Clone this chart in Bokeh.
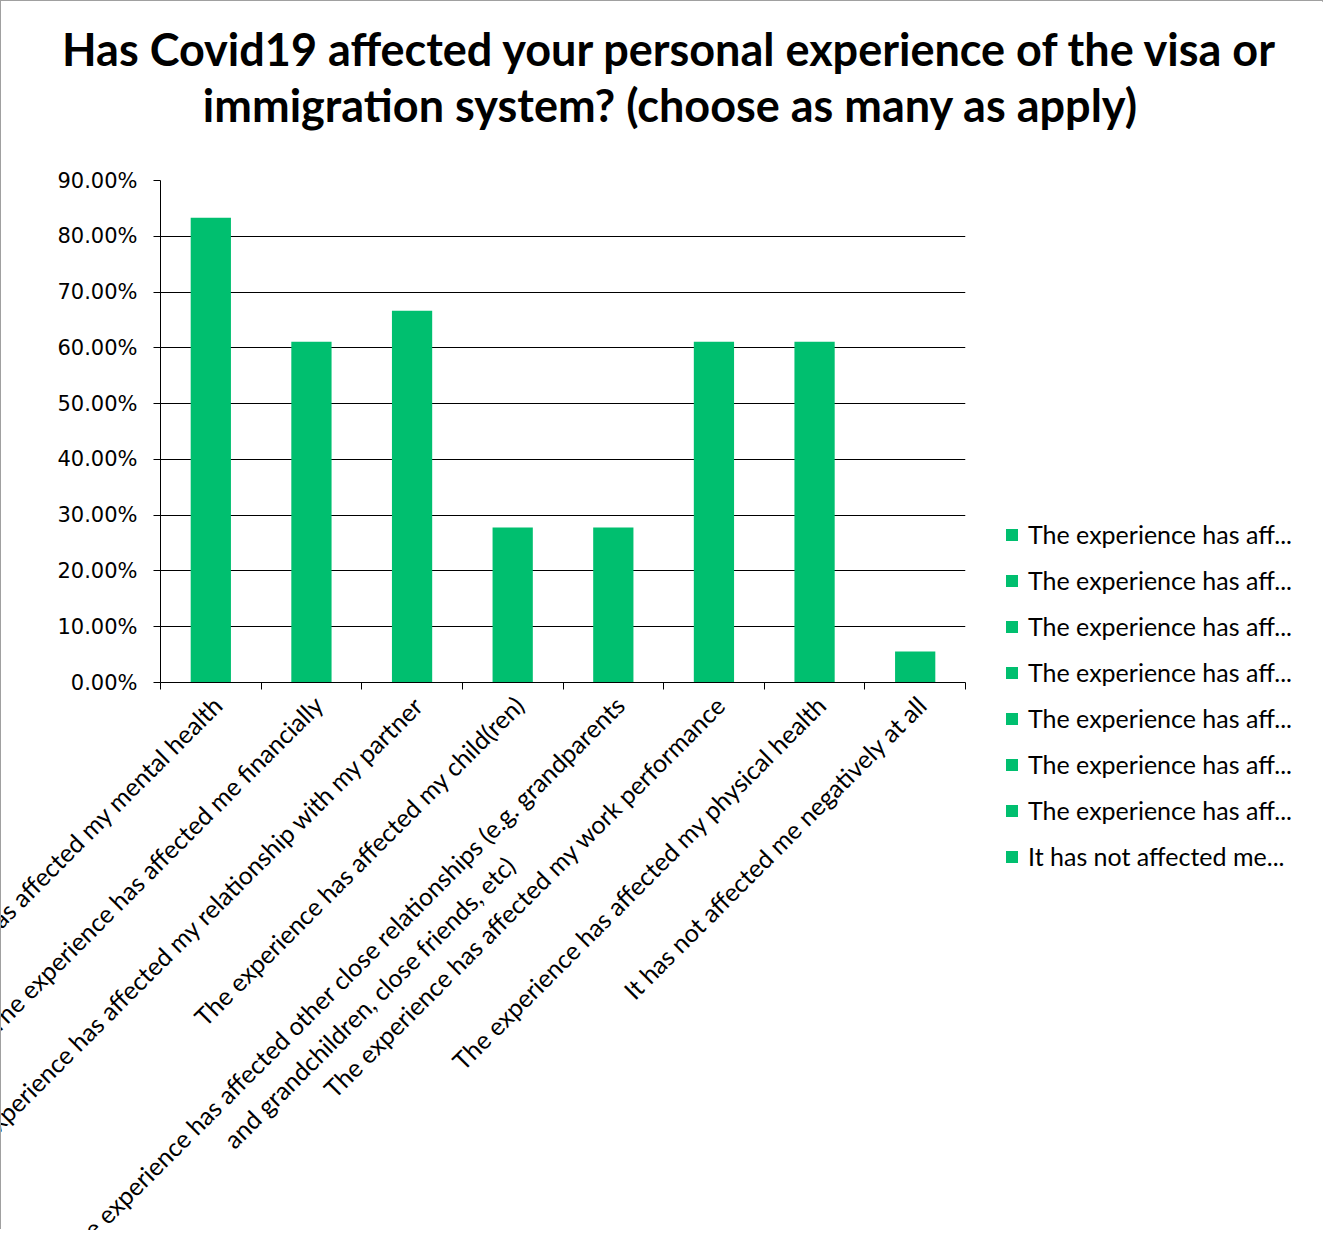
import math
from bokeh.plotting import figure
from bokeh.models import (FactorRange, Range1d, LinearAxis, FixedTicker, NumeralTickFormatter,
                          Legend, LegendItem, ColumnDataSource, Label)
from bokeh.core.properties import value
from bokeh.embed import file_html
from bokeh.resources import INLINE

title_text = ("Has Covid19 affected your personal experience of the visa or\n"
              "immigration system? (choose as many as apply)")

categories = [
    "The experience has affected my mental health",
    "The experience has affected me financially",
    "The experience has affected my relationship with my partner",
    "The experience has affected my child(ren)",
    "The experience has affected other close relationships (e.g. grandparents\nand grandchildren, close friends, etc)",
    "The experience has affected my work performance",
    "The experience has affected my physical health",
    "It has not affected me negatively at all",
]
values = [0.8333, 0.6111, 0.6667, 0.2778, 0.2778, 0.6111, 0.6111, 0.0556]
legend_labels = [
    "The experience has aff...",
    "The experience has aff...",
    "The experience has aff...",
    "The experience has aff...",
    "The experience has aff...",
    "The experience has aff...",
    "The experience has aff...",
    "It has not affected me...",
]
y_ticks = [0.0, 0.1, 0.2, 0.3, 0.4, 0.5, 0.6, 0.7, 0.8, 0.9]

GREEN = "#00BF6F"
FONT = "Lato"

source = ColumnDataSource(data=dict(cat=categories, val=values))

p = figure(
    x_range=FactorRange(factors=categories, range_padding=0),
    y_range=Range1d(0, 0.9),
    width=1323, height=1229,
    width_policy="fixed", height_policy="fixed",
    frame_width=805, frame_height=502,
    output_backend="svg", toolbar_location=None,
    x_axis_location=None, title=None,
    min_border_left=159, min_border_right=359,
    min_border_top=179, min_border_bottom=548,
    styles={"border-top": "1px solid #a0a0a0",
            "border-left": "1px solid #a0a0a0",
            "border-right": "1px solid #a0a0a0"},
)
p.outline_line_color = None
p.background_fill_color = "white"
p.border_fill_color = "white"

# two-line centred title, placed in the panel above the plot
p.add_layout(Label(
    x=510, y=48, x_units="screen", y_units="screen",
    text=title_text, anchor="bottom_center", text_align="center",
    text_font=FONT, text_font_size="45px", text_font_style="bold",
    text_color="black", text_line_height=1.05,
), "above")

r = p.vbar(x="cat", top="val", width=0.4, source=source, fill_color=GREEN, line_color=None)

# y axis
ya = p.yaxis[0]
ya.ticker = FixedTicker(ticks=y_ticks)
ya.formatter = NumeralTickFormatter(format="0.00%")
ya.major_tick_out = 7
ya.major_tick_in = 0
ya.minor_tick_line_color = None
ya.axis_line_color = "black"
ya.major_tick_line_color = "black"
ya.major_label_text_font = "DejaVu Sans"
ya.major_label_text_font_size = "21px"
ya.major_label_text_color = "black"
ya.major_label_standoff = 16

p.ygrid.ticker = FixedTicker(ticks=y_ticks)
p.ygrid.grid_line_color = "black"
p.xgrid.grid_line_color = None

# x axis: tick marks at category boundaries (no labels of its own)
tick_axis = LinearAxis(
    ticker=FixedTicker(ticks=list(range(len(categories) + 1))),
    major_tick_out=7, major_tick_in=0,
    minor_tick_line_color=None,
    major_label_text_color=None,
    axis_line_color="black", major_tick_line_color="black",
)
p.add_layout(tick_axis, "below")

# rotated category labels (overlay level so they are not clipped to the frame)
p.text(
    x="cat", y=0, text="cat", source=source, level="overlay",
    angle=math.pi / 4, anchor="top_right", text_align="center",
    x_offset=-4, y_offset=7,
    text_font=value(FONT), text_font_size="25px", text_color="black",
)

items = [LegendItem(label=lab, renderers=[r], index=i) for i, lab in enumerate(legend_labels)]
legend = Legend(
    items=items, location=(39, -189),
    border_line_color=None, background_fill_alpha=0,
    padding=0, margin=0, spacing=16,
    label_height=30, glyph_height=15, glyph_width=15, label_standoff=9,
    label_text_font=FONT, label_text_font_size="25px", label_text_color="black",
)
p.add_layout(legend, "right")

open("out.html", "w").write(file_html(p, INLINE))
